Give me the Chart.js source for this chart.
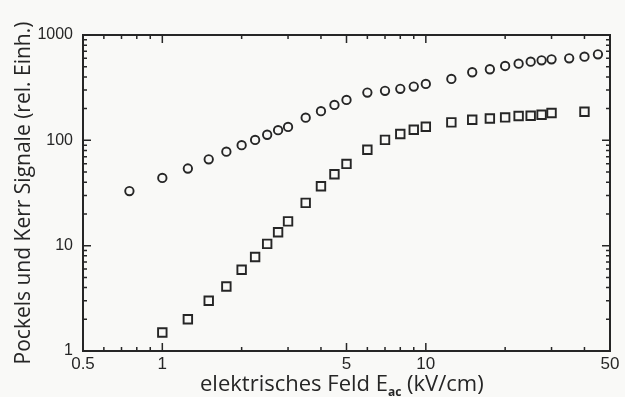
<!DOCTYPE html>
<html>
<head>
<meta charset="utf-8">
<script src="https://cdn.jsdelivr.net/npm/chart.js@4.4.1/dist/chart.umd.min.js"></script>
<style>
  html, body { margin: 0; padding: 0; background: #f9f9f7; }
  #wrap { width: 625px; height: 397px; }
</style>
</head>
<body>
<div id="wrap"><canvas id="chart" width="625" height="397"></canvas></div>
<script>
// Kerr-Signal (Kreise)
const feldKerr = [0.75, 1, 1.25, 1.5, 1.75, 2, 2.25, 2.5, 2.75, 3, 3.5, 4, 4.5, 5, 6, 7, 8, 9, 10,
  12.5, 15, 17.5, 20, 22.5, 25, 27.5, 30, 35, 40, 45];
const kerrWerte = [33, 44, 54, 66, 78, 90, 101, 113, 125, 134, 164, 189, 217, 242, 284, 295, 308, 324, 343,
  383, 443, 473, 508, 534, 558, 575, 588, 601, 622, 655];

// Pockels-Signal (Quadrate)
const feldPockels = [1, 1.25, 1.5, 1.75, 2, 2.25, 2.5, 2.75, 3, 3.5, 4, 4.5, 5, 6, 7, 8, 9, 10,
  12.5, 15, 17.5, 20, 22.5, 25, 27.5, 30, 40];
const pockelsWerte = [1.5, 2.0, 3.0, 4.1, 5.9, 7.8, 10.4, 13.4, 17, 25.5, 36.6, 47.6, 59.7, 81.5, 101, 115, 126, 134.5,
  148, 157, 161, 165, 170, 171, 175, 182, 187];

const xTicks = [0.5, 1, 5, 10, 50];
const yTicks = [1, 10, 100, 1000];

const ink = '#262626';

// Rahmen mit nach innen zeigenden Strichen + x-Achsentitel mit Index
const rahmenPlugin = {
  id: 'rahmen',
  beforeDraw(chart) {
    const { ctx } = chart;
    ctx.save();
    ctx.fillStyle = '#f9f9f7';
    ctx.fillRect(0, 0, chart.width, chart.height);
    ctx.restore();
  },
  afterDraw(chart) {
    const { ctx, chartArea: a, scales: { x, y } } = chart;
    ctx.save();
    ctx.strokeStyle = ink;
    ctx.lineWidth = 2;
    ctx.strokeRect(a.left, a.top, a.right - a.left, a.bottom - a.top);

    ctx.lineWidth = 1.5;
    ctx.beginPath();
    // x-Striche
    for (let d = 0.1; d <= 10; d *= 10) {
      for (let m = 1; m <= 9; m++) {
        const v = +(m * d).toPrecision(3);
        if (v < 0.5 || v > 50) continue;
        const px = x.getPixelForValue(v);
        const lang = (m === 1 || xTicks.includes(v)) ? 8 : 4;
        ctx.moveTo(px, a.bottom); ctx.lineTo(px, a.bottom - lang);
        ctx.moveTo(px, a.top); ctx.lineTo(px, a.top + lang);
      }
    }
    // y-Striche
    for (let d = 1; d <= 100; d *= 10) {
      for (let m = 1; m <= 10; m++) {
        const v = m * d;
        const py = y.getPixelForValue(v);
        const lang = (m === 1 || m === 10) ? 8 : 4;
        ctx.moveTo(a.left, py); ctx.lineTo(a.left + lang, py);
        ctx.moveTo(a.right, py); ctx.lineTo(a.right - lang, py);
      }
    }
    ctx.stroke();

    // x-Achsentitel
    ctx.fillStyle = ink;
    ctx.textBaseline = 'alphabetic';
    ctx.textAlign = 'left';
    let cx = 200;
    const base = 391;
    ctx.font = '22px "Open Sans"';
    const t1 = 'elektrisches Feld E';
    ctx.fillText(t1, cx, base);
    cx += ctx.measureText(t1).width;
    ctx.font = 'bold 12px "Open Sans"';
    ctx.fillText('ac', cx, base + 5);
    cx += ctx.measureText('ac').width;
    ctx.font = '22px "Open Sans"';
    ctx.fillText(' (kV/cm)', cx, base);
    ctx.restore();
  }
};

const ctx = document.getElementById('chart').getContext('2d');

new Chart(ctx, {
  type: 'scatter',
  data: {
    datasets: [
      {
        label: 'Kerr',
        data: feldKerr.map((f, i) => ({ x: f, y: kerrWerte[i] })),
        pointStyle: 'circle',
        pointRadius: 4.2,
        pointBorderWidth: 1.9,
        borderColor: ink,
        backgroundColor: 'rgba(0,0,0,0)'
      },
      {
        label: 'Pockels',
        data: feldPockels.map((f, i) => ({ x: f, y: pockelsWerte[i] })),
        pointStyle: 'rect',
        pointRadius: 6,
        pointBorderWidth: 1.9,
        borderColor: ink,
        backgroundColor: 'rgba(0,0,0,0)'
      }
    ]
  },
  options: {
    responsive: false,
    animation: false,
    devicePixelRatio: 1,
    layout: { padding: { top: 35, right: 15, left: 0, bottom: 0 } },
    plugins: {
      legend: { display: false },
      tooltip: { enabled: false }
    },
    scales: {
      x: {
        type: 'logarithmic',
        min: 0.5,
        max: 50,
        afterBuildTicks: scale => { scale.ticks = xTicks.map(v => ({ value: v })); },
        afterFit: scale => { scale.height = 46; },
        grid: { display: false, drawTicks: false },
        border: { display: false },
        ticks: {
          autoSkip: false,
          maxRotation: 0,
          padding: 3,
          color: ink,
          font: { family: '"Liberation Sans"', size: 17 },
          callback: v => String(v)
        }
      },
      y: {
        type: 'logarithmic',
        min: 1,
        max: 1000,
        afterBuildTicks: scale => { scale.ticks = yTicks.map(v => ({ value: v })); },
        afterFit: scale => { scale.width = 83; },
        grid: { display: false, drawTicks: false },
        border: { display: false },
        ticks: {
          autoSkip: false,
          padding: 10,
          color: ink,
          font: { family: '"Liberation Sans"', size: 16 },
          callback: v => String(v)
        },
        title: {
          display: true,
          text: 'Pockels und Kerr Signale (rel. Einh.)',
          color: ink,
          padding: { top: 11, bottom: 0 },
          font: { family: '"Open Sans"', size: 21 }
        }
      }
    }
  },
  plugins: [rahmenPlugin]
});
</script>
</body>
</html>
